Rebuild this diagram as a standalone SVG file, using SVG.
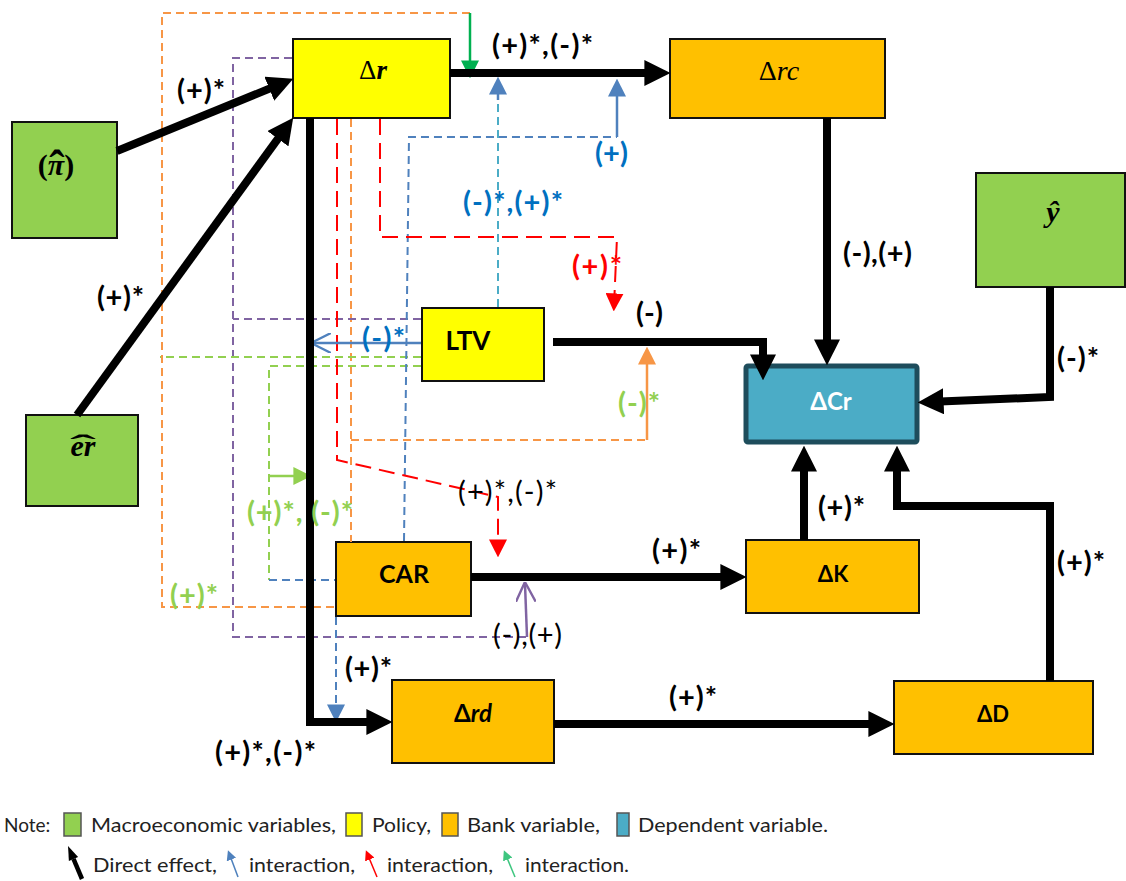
<svg xmlns="http://www.w3.org/2000/svg" width="1126" height="881" viewBox="0 0 1126 881">
<style>
.n{stroke:#111;stroke-width:2}
.mac{fill:#92D050}
.pol{fill:#FFFF00}
.bank{fill:#FFC000}
.dep{fill:#4BACC6;stroke:#1E4D5C;stroke-width:5}
.k{fill:none;stroke:#000;stroke-width:8}
.lbl{font-family:Lato,"Liberation Sans",sans-serif;font-weight:700;font-size:29px;fill:#000}
.reg{font-weight:400}
.blu{fill:#0070C0}
.grn{fill:#92D050}
.red{fill:#FF0000}
.math{font-family:"Liberation Serif","DejaVu Serif",serif;fill:#000;text-anchor:middle}
.nt{font-family:Lato,"Liberation Sans",sans-serif;font-weight:700;fill:#000;text-anchor:middle}
.d{fill:none;stroke-width:2;stroke-dasharray:8 5}
.dO{stroke:#F79646}
.dP{stroke:#8064A2}
.dR{stroke:#FF0000;stroke-dasharray:16 8}
.dB{stroke:#4F81BD}
.dLB{stroke:#4BACC6}
.dG{stroke:#92D050}
.s{fill:none;stroke-width:2.5}
.leg{font-family:Lato,"Liberation Sans",sans-serif;font-size:19px;fill:#222}
.sw{stroke:#555;stroke-width:1.5}
</style>
<defs>
<marker id="ahK" viewBox="0 0 10 10" markerUnits="userSpaceOnUse" markerWidth="26" markerHeight="26" refX="6" refY="5" orient="auto"><path d="M0,0L10,5L0,10z" fill="#000"/></marker>
<marker id="ahB" viewBox="0 0 10 10" markerUnits="userSpaceOnUse" markerWidth="18" markerHeight="18" refX="7" refY="5" orient="auto"><path d="M0,0L10,5L0,10z" fill="#4F81BD"/></marker>
<marker id="ahR" viewBox="0 0 10 10" markerUnits="userSpaceOnUse" markerWidth="18" markerHeight="18" refX="7" refY="5" orient="auto"><path d="M0,0L10,5L0,10z" fill="#FF0000"/></marker>
<marker id="ahG" viewBox="0 0 10 10" markerUnits="userSpaceOnUse" markerWidth="18" markerHeight="18" refX="7" refY="5" orient="auto"><path d="M0,0L10,5L0,10z" fill="#00B050"/></marker>
<marker id="ahO" viewBox="0 0 10 10" markerUnits="userSpaceOnUse" markerWidth="18" markerHeight="18" refX="7" refY="5" orient="auto"><path d="M0,0L10,5L0,10z" fill="#F79646"/></marker>
<marker id="ahLG" viewBox="0 0 10 10" markerUnits="userSpaceOnUse" markerWidth="18" markerHeight="18" refX="7" refY="5" orient="auto"><path d="M0,0L10,5L0,10z" fill="#92D050"/></marker>
<marker id="opB" viewBox="0 0 10 10" markerUnits="userSpaceOnUse" markerWidth="20" markerHeight="20" refX="9" refY="5" orient="auto"><path d="M0,0L10,5L0,10" fill="none" stroke="#4F81BD" stroke-width="1.2"/></marker>
<marker id="opP" viewBox="0 0 10 10" markerUnits="userSpaceOnUse" markerWidth="20" markerHeight="20" refX="9" refY="5" orient="auto"><path d="M0,0L10,5L0,10" fill="none" stroke="#8064A2" stroke-width="1.2"/></marker>
<marker id="sB" viewBox="0 0 10 10" markerUnits="userSpaceOnUse" markerWidth="10" markerHeight="10" refX="7" refY="5" orient="auto"><path d="M0,0L10,5L0,10z" fill="#4F81BD"/></marker>
<marker id="sR" viewBox="0 0 10 10" markerUnits="userSpaceOnUse" markerWidth="10" markerHeight="10" refX="7" refY="5" orient="auto"><path d="M0,0L10,5L0,10z" fill="#FF0000"/></marker>
<marker id="sG" viewBox="0 0 10 10" markerUnits="userSpaceOnUse" markerWidth="10" markerHeight="10" refX="7" refY="5" orient="auto"><path d="M0,0L10,5L0,10z" fill="#3EC67F"/></marker>
</defs>
<rect width="1126" height="881" fill="#fff"/>

<g id="node-pi">
  <rect class="n mac" x="12" y="122" width="105" height="116"/>
  <text class="math" x="56" y="175" font-size="30" font-weight="bold">(<tspan font-style="italic">π</tspan>)<tspan x="57" y="182" font-size="46">ˆ</tspan></text>
</g>
<g id="node-er">
  <rect class="n mac" x="26" y="415" width="112" height="91"/>
  <text class="math" x="83" y="456" font-size="30" font-weight="bold" font-style="italic">er</text>
  <text class="math" x="83" y="455" font-size="30" font-weight="bold" transform="translate(83,0) scale(2.6,1) translate(-83,0)">ˆ</text>
</g>
<g id="node-y">
  <rect class="n mac" x="976" y="173" width="149" height="114"/>
  <text class="math" x="1053" y="222" font-size="30" font-weight="bold" font-style="italic">ŷ</text>
</g>
<g id="node-dr">
  <rect class="n pol" x="293" y="39" width="157" height="79"/>
  <text class="math" x="373" y="79" font-size="27">Δ<tspan font-style="italic" font-weight="bold">r</tspan></text>
</g>
<g id="node-drc">
  <rect class="n bank" x="670" y="39" width="215" height="79"/>
  <text class="math" x="779" y="80" font-size="28">Δ<tspan font-style="italic">rc</tspan></text>
</g>
<g id="node-ltv">
  <rect class="n pol" x="422" y="308" width="122" height="73"/>
  <text class="nt" x="468" y="350" font-size="26">LTV</text>
</g>
<g id="node-dcr">
  <rect class="dep" x="746" y="366" width="171" height="76" rx="2"/>
  <text class="nt" x="831" y="410" font-size="24" style="fill:#fff">ΔCr</text>
</g>
<g id="node-car">
  <rect class="n bank" x="336" y="542" width="135" height="74"/>
  <text class="nt" x="404" y="583" font-size="25">CAR</text>
</g>
<g id="node-dk">
  <rect class="n bank" x="746" y="540" width="173" height="73"/>
  <text class="nt" x="833" y="582" font-size="22">ΔK</text>
</g>
<g id="node-drd">
  <rect class="n bank" x="392" y="680" width="162" height="83"/>
  <text class="nt" x="473" y="722" font-size="24">Δ<tspan font-style="italic">rd</tspan></text>
</g>
<g id="node-dd">
  <rect class="n bank" x="894" y="681" width="199" height="73"/>
  <text class="nt" x="993" y="722" font-size="22">ΔD</text>
</g>

<g id="connectors">
  <path class="d dO" d="M470,13 L162,13 L162,607 L336,607"/>
  <path class="d dO" d="M351,119 L351,542"/>
  <path class="d dO" d="M351,440 L647,440"/>
  <path class="d dP" d="M292,58 L233,58 L233,637 L527,637"/>
  <path class="d dP" d="M421,319 L233,319"/>
  <path class="d dG" d="M421,357 L160,357"/>
  <path class="d dG" d="M421,366 L269,366 L269,580"/>
  <path class="d dB" d="M269,580 L335,580"/>
  <path class="d dB" d="M404,541 L409,137 L617,137"/>
  <path class="d dLB" d="M498,307 L498,100"/>
  <path class="d dR" d="M337,119 L337,460 L498,497 L498,552" marker-end="url(#ahR)"/>
  <path class="d dR" d="M380,119 L380,237 L617,237 L614,306" marker-end="url(#ahR)"/>
  <path class="d dB" d="M336,617 L336,717" marker-end="url(#ahB)"/>
  <path class="s" stroke="#00B050" d="M470,13 L470,73" marker-end="url(#ahG)"/>
  <path class="s" stroke="#4F81BD" d="M617,137 L617,84" marker-end="url(#ahB)"/>
  <path class="s" stroke="#4F81BD" d="M498,100 L498,82" marker-end="url(#ahB)"/>
  <path class="s" stroke="#F79646" d="M647,440 L647,352" marker-end="url(#ahO)"/>
  <path class="s" stroke="#92D050" d="M269,476 L306,476" marker-end="url(#ahLG)"/>
  <path class="s" stroke="#4F81BD" d="M421,343 L313,343" marker-end="url(#opB)"/>
  <path class="s" stroke="#8064A2" d="M527,637 L525,584" marker-end="url(#opP)"/>
  <path class="k" d="M117,151 L283.7,82.8" marker-end="url(#ahK)"/>
  <path class="k" d="M77,415 L287.1,126.1" marker-end="url(#ahK)"/>
  <path class="k" d="M450,73 L660,73" marker-end="url(#ahK)"/>
  <path class="k" d="M827,118 L827,355" marker-end="url(#ahK)"/>
  <path class="k" d="M1050,287 L1050,397 L928,402" marker-end="url(#ahK)"/>
  <path class="k" d="M553,342 L763,342 L763,370" marker-end="url(#ahK)"/>
  <path class="k" d="M804,540 L804,456" marker-end="url(#ahK)"/>
  <path class="k" d="M1050,681 L1050,506 L897,506 L897,456" marker-end="url(#ahK)"/>
  <path class="k" d="M310,118 L310,722 L382,722" marker-end="url(#ahK)"/>
  <path class="k" d="M471,577 L736,577" marker-end="url(#ahK)"/>
  <path class="k" d="M554,724 L884,724" marker-end="url(#ahK)"/>
</g>

<g id="labels">
  <text class="lbl" x="177" y="100" textLength="48" lengthAdjust="spacing">(+)*</text>
  <text class="lbl" x="492" y="55" textLength="101" lengthAdjust="spacing">(+)*,(-)*</text>
  <text class="lbl blu" x="595" y="163" textLength="33" lengthAdjust="spacing">(+)</text>
  <text class="lbl blu" x="463" y="212" textLength="100" lengthAdjust="spacing">(-)*,(+)*</text>
  <text class="lbl red" x="572" y="276" textLength="50" lengthAdjust="spacing">(+)*</text>
  <text class="lbl" x="843" y="263" textLength="69" lengthAdjust="spacing">(-),(+)</text>
  <text class="lbl" x="97" y="307" textLength="47" lengthAdjust="spacing">(+)*</text>
  <text class="lbl" x="636" y="323" textLength="27" lengthAdjust="spacing">(-)</text>
  <text class="lbl blu" x="362" y="348" textLength="43" lengthAdjust="spacing">(-)*</text>
  <text class="lbl grn" x="618" y="413" textLength="42" lengthAdjust="spacing">(-)*</text>
  <text class="lbl" x="1057" y="368" textLength="42" lengthAdjust="spacing">(-)*</text>
  <text class="lbl reg" x="458" y="502" textLength="99" lengthAdjust="spacing">(+)*,(-)*</text>
  <text class="lbl grn" x="247" y="522" textLength="106" lengthAdjust="spacing">(+)*, (-)*</text>
  <text class="lbl grn" x="170" y="605" textLength="48" lengthAdjust="spacing">(+)*</text>
  <text class="lbl" x="652" y="560" textLength="49" lengthAdjust="spacing">(+)*</text>
  <text class="lbl" x="818" y="517" textLength="47" lengthAdjust="spacing">(+)*</text>
  <text class="lbl" x="1057" y="572" textLength="48" lengthAdjust="spacing">(+)*</text>
  <text class="lbl reg" x="493" y="645" textLength="69" lengthAdjust="spacing">(-),(+)</text>
  <text class="lbl" x="345" y="678" textLength="47" lengthAdjust="spacing">(+)*</text>
  <text class="lbl" x="215" y="762" textLength="101" lengthAdjust="spacing">(+)*,(-)*</text>
  <text class="lbl" x="669" y="707" textLength="48" lengthAdjust="spacing">(+)*</text>
</g>

<g id="legend">
  <text class="leg" x="4" y="832">Note:</text>
  <rect class="sw mac" x="64" y="813" width="17" height="23"/>
  <text class="leg" x="91" y="832" textLength="245" lengthAdjust="spacingAndGlyphs">Macroeconomic variables,</text>
  <rect class="sw pol" x="346" y="813" width="16" height="23"/>
  <text class="leg" x="372" y="832" textLength="59" lengthAdjust="spacingAndGlyphs">Policy,</text>
  <rect class="sw bank" x="442" y="813" width="16" height="23"/>
  <text class="leg" x="467" y="832" textLength="133" lengthAdjust="spacingAndGlyphs">Bank variable,</text>
  <rect class="sw" fill="#4BACC6" x="617" y="813" width="12" height="23"/>
  <text class="leg" x="638" y="832" textLength="190" lengthAdjust="spacingAndGlyphs">Dependent variable.</text>
  <path d="M73.5,858.9 L82,879" stroke="#000" stroke-width="4.5" fill="none"/>
  <path d="M68,846 L78.1,856.9 L68.9,860.9 z" fill="#000"/>
  <text class="leg" x="93" y="872" textLength="124" lengthAdjust="spacingAndGlyphs">Direct effect,</text>
  <path d="M238,877 L229,853" stroke="#4F81BD" stroke-width="1.5" marker-end="url(#sB)"/>
  <text class="leg" x="249" y="872" textLength="106" lengthAdjust="spacingAndGlyphs">interaction,</text>
  <path d="M377,877 L367,853" stroke="#FF0000" stroke-width="1.5" marker-end="url(#sR)"/>
  <text class="leg" x="387" y="872" textLength="106" lengthAdjust="spacingAndGlyphs">interaction,</text>
  <path d="M515,877 L505,853" stroke="#3EC67F" stroke-width="1.5" marker-end="url(#sG)"/>
  <text class="leg" x="525" y="872" textLength="104" lengthAdjust="spacingAndGlyphs">interaction.</text>
</g>
</svg>
